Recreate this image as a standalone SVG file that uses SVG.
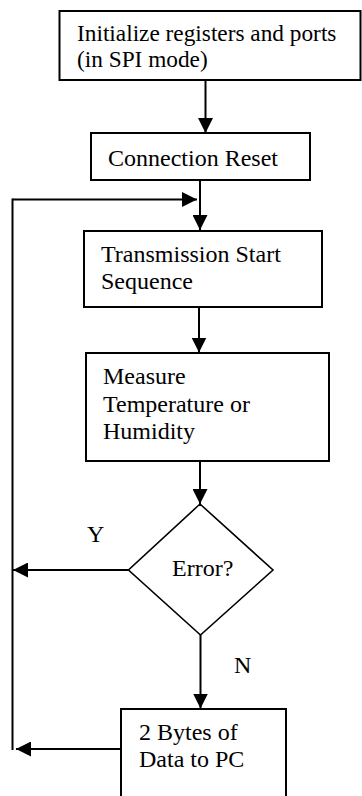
<svg xmlns="http://www.w3.org/2000/svg" width="362" height="796" viewBox="0 0 362 796">
<defs>
<style>
.box{fill:#fff;stroke:#000;stroke-width:2}
.dia{fill:#fff;stroke:#000;stroke-width:1.6}
.t{font-family:"Liberation Serif","Times New Roman",serif;font-size:24px;fill:#000}
.c{fill:none;stroke:#000;stroke-width:2}
</style>
<marker id="ah" markerUnits="userSpaceOnUse" markerWidth="15" markerHeight="15" refX="15" refY="7.5" orient="auto" viewBox="0 0 15 15">
<path d="M0,0 L15,7.5 L0,15 z" fill="#000"/>
</marker>
</defs>
<rect width="362" height="796" fill="#fff"/>
<g id="connectors">
<path class="c" d="M205.5,80 V133" marker-end="url(#ah)"/>
<path class="c" d="M200,180 V230" marker-end="url(#ah)"/>
<path class="c" d="M12.5,199.5 H197" stroke-width="2.6" marker-end="url(#ah)"/>
<path class="c" d="M12.5,198.5 V750"/>
<path class="c" d="M199,307 V352.5" marker-end="url(#ah)"/>
<path class="c" d="M200,461 V504" marker-end="url(#ah)"/>
<path class="c" d="M128.5,570 H13" marker-end="url(#ah)"/>
<path class="c" d="M200.5,635 V708.5" marker-end="url(#ah)"/>
<path class="c" d="M121,749 H16" marker-end="url(#ah)"/>
</g>
<g id="init">
<rect class="box" x="59.5" y="11" width="301" height="69"/>
<text class="t" x="77" y="40.5" style="font-size:23.3px">Initialize registers and ports</text>
<text class="t" x="77" y="67" style="font-size:23.3px">(in SPI mode)</text>
</g>
<g id="reset">
<rect class="box" x="91" y="133" width="219" height="47"/>
<text class="t" x="108" y="166">Connection Reset</text>
</g>
<g id="start">
<rect class="box" x="84" y="231" width="238" height="76"/>
<text class="t" x="101" y="262">Transmission Start</text>
<text class="t" x="101" y="289">Sequence</text>
</g>
<g id="measure">
<rect class="box" x="86" y="353" width="243" height="108"/>
<text class="t" x="103" y="384">Measure</text>
<text class="t" x="103" y="412">Temperature or</text>
<text class="t" x="103" y="439">Humidity</text>
</g>
<g id="error">
<polygon class="dia" points="200,504 273,570 200.5,635 128.5,570"/>
<text class="t" x="172" y="576">Error?</text>
</g>
<g id="labels">
<text class="t" x="87" y="542">Y</text>
<text class="t" x="234" y="673">N</text>
</g>
<g id="send">
<rect class="box" x="121" y="709" width="165" height="100"/>
<text class="t" x="139" y="740">2 Bytes of</text>
<text class="t" x="139" y="767">Data to PC</text>
</g>
</svg>
